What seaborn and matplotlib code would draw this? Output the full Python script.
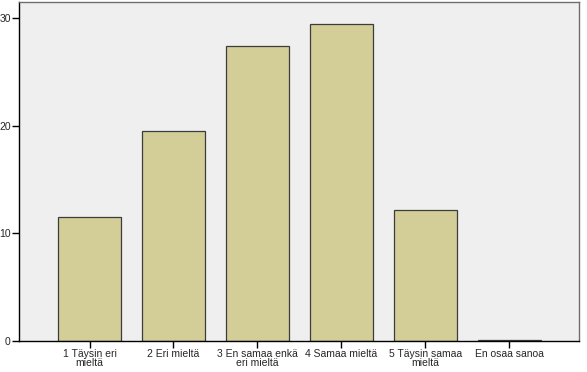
import matplotlib
matplotlib.use("Agg")
import matplotlib.pyplot as plt
import seaborn as sns
import pandas as pd

categories = ["1 Täysin eri\nmieltä", "2 Eri mieltä", "3 En samaa enkä\neri mieltä",
              "4 Samaa mieltä", "5 Täysin samaa\nmieltä", "En osaa sanoa"]
percent = [11.5, 19.5, 27.4, 29.5, 12.2, 0.1]
y_ticks = [0, 10, 20, 30]

df = pd.DataFrame({"vastaus": categories, "prosentti": percent})

sns.set_style("white")
plt.rcParams["font.family"] = ["Liberation Sans", "DejaVu Sans"]

fig = plt.figure(figsize=(5.87, 3.72), dpi=100)
ax = fig.add_axes([19 / 587, 31 / 372, 560 / 587, 339 / 372])
ax.set_facecolor("#efefef")

sns.barplot(data=df, x="vastaus", y="prosentti", color="#d3ce97", width=0.75,
            edgecolor="#3c3c3c", linewidth=0.9, saturation=1, ax=ax)

ax.set_xlim(-0.84, 5.83)
ax.set_ylim(0, 31.5)
ax.set_yticks(y_ticks)
ax.set_xlabel("")
ax.set_ylabel("")
ax.tick_params(axis="both", direction="out", length=5, width=1, color="black",
               labelsize=7.5, pad=1, left=True, bottom=True)
ax.tick_params(axis="x", pad=1)
for lbl in ax.get_xticklabels():
    lbl.set_linespacing(0.85)
ax.spines["left"].set_color("black")
ax.spines["bottom"].set_color("black")
ax.spines["top"].set_color("#6e6e6e")
ax.spines["right"].set_color("#6e6e6e")
for s in ax.spines.values():
    s.set_linewidth(1)

fig.savefig("out.png", dpi=100, facecolor="white")
